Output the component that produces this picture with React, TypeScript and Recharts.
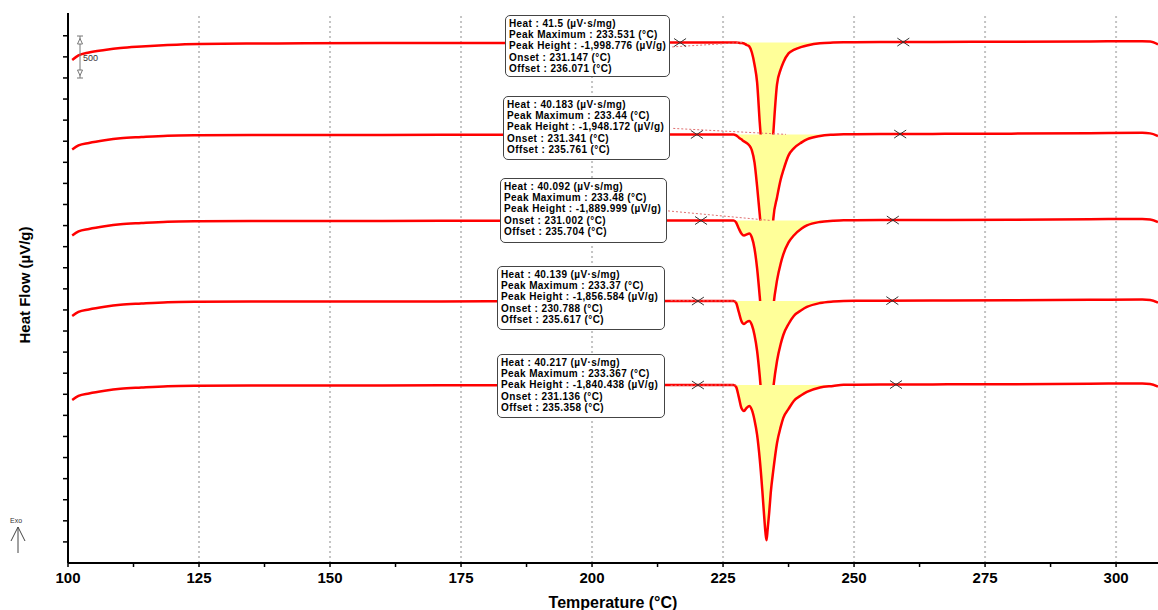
import React from "react";
import {
  ComposedChart,
  Line,
  Area,
  XAxis,
  YAxis,
  ReferenceLine,
  Scatter,
  Label,
} from "recharts";

// temperature grid (°C), denser around the melting peak
const TEMPS = [
  100.8, 102, 104, 107, 110, 114, 119, 125, 140, 160, 180, 200, 215, 222, 226,
  227, 227.5, 228, 228.5, 229, 229.5, 230, 230.5, 231, 231.5, 232, 232.5, 232.8,
  233.1, 233.3, 233.5, 233.8, 234.1, 234.6, 235.3, 236, 236.5, 237.5, 238.5, 240,
  241, 243.5, 246, 248, 255, 265, 280, 295, 305, 306.5, 308,
];

// heat flow relative to each run's own baseline (µV/g)
const CURVE_1 = [
  -202, -148, -113, -83, -59, -41, -24, -12, -6, 0, 0, 2, 4, 5, 6,
  6, 6, 2, -1, -6, -24, -41, -113, -255, -468, -942, -1357, -1594, -1831, -1938,
  -1993, -1831, -1535, -1061, -492, -314, -231, -124, -83, -47, -30, -3, 4, 7,
  10, 12, 15, 18, 20, 16, -18,
];
const CURVE_2 = [
  -172, -124, -95, -63, -39, -24, -9, -4, 0, 0, 2, 3, 5, 6, 6,
  6, -6, -30, -53, -77, -95, -124, -184, -326, -610, -942, -1298, -1535, -1772, -1891,
  -1942, -1772, -1476, -990, -741, -528, -421, -243, -160, -89, -53, -12, 2, 7,
  10, 12, 15, 20, 24, 18, -14,
];
const CURVE_3 = [
  -172, -124, -95, -63, -39, -24, -9, -4, 0, 0, 2, 3, 5, 6, 6,
  6, -18, -89, -148, -172, -160, -148, -196, -326, -563, -895, -1274, -1535, -1772, -1867,
  -1884, -1654, -1393, -1014, -705, -504, -397, -255, -172, -89, -53, -12, 1, 7,
  10, 12, 15, 20, 24, 18, -14,
];
const CURVE_4 = [
  -172, -124, -95, -63, -39, -24, -9, -4, 0, 0, 2, 3, 5, 6, 6,
  6, -18, -124, -231, -267, -243, -231, -279, -397, -587, -883, -1251, -1511, -1749, -1850,
  -1772, -1559, -1322, -1014, -705, -504, -397, -267, -172, -101, -65, -18, 0, 7,
  10, 12, 15, 20, 24, 18, -14,
];
const CURVE_5 = [
  -172, -124, -95, -63, -39, -24, -9, -4, 0, 0, 2, 3, 5, 6, 6,
  6, -18, -136, -267, -302, -267, -243, -290, -409, -587, -871, -1251, -1511, -1749, -1834,
  -1713, -1511, -1274, -1002, -682, -492, -385, -279, -184, -113, -77, -24, -6, 7,
  10, 12, 15, 20, 24, 18, -14,
];
const CURVES = [CURVE_1, CURVE_2, CURVE_3, CURVE_4, CURVE_5];

// vertical stacking of the five runs
const CURVE_OFFSETS = [-85, -1175, -2195, -3150, -4145];
const PEAK_BASE = 6;
const PEAK_FROM = 226;
const PEAK_TO = 248;

// integration limits (×) and their level relative to baseline
const MARKER_TEMPS = [
  [216.8, 259.4],
  [220, 258.8],
  [220.8, 257.4],
  [220.2, 257.3],
  [220.2, 258],
];
const MARKER_LEVELS = [5, 10];

// faint baseline leaders from the boxes to the peaks
const LEADER_START_T = [215.3, 215.5, 214.5, 215, 215];
const LEADER_START_LEVEL = [-47, 77, 119, 10, 0];
const LEADER_END_T = [229, 237, 234, 227.5, 227.5];

const X_TICKS = [
  100, 112.5, 125, 137.5, 150, 162.5, 175, 187.5, 200, 212.5, 225, 237.5, 250,
  262.5, 275, 287.5, 300,
];
const GRID_TEMPS = [125, 150, 175, 200, 225, 250, 275, 300];
const Y_TICKS = [
  0, -250, -500, -750, -1000, -1250, -1500, -1750, -2000, -2250, -2500, -2750,
  -3000, -3250, -3500, -3750, -4000, -4250, -4500, -4750, -5000, -5250, -5500,
  -5750, -6000,
];

// analysis results per run
const HEAT = ["41.5", "40.183", "40.092", "40.139", "40.217"];
const PEAK_MAX = ["233.531", "233.44", "233.48", "233.37", "233.367"];
const PEAK_HEIGHT = ["-1,998.776", "-1,948.172", "-1,889.999", "-1,856.584", "-1,840.438"];
const ONSET = ["231.147", "231.341", "231.002", "230.788", "231.136"];
const OFFSET = ["236.071", "235.761", "235.704", "235.617", "235.358"];

const BOX_STYLES = [
  { left: 505, top: 15, width: 165, height: 62 },
  { left: 503, top: 96, width: 167, height: 64 },
  { left: 500, top: 178, width: 167, height: 65 },
  { left: 497, top: 266, width: 168, height: 64 },
  { left: 497, top: 354, width: 168, height: 64 },
];

const FONT = '"Liberation Sans", Arial, Helvetica, sans-serif';
const RED = "#ff0000";
const FILL = "#ffff99";

const table = TEMPS.map((t, i) => {
  const row: Record<string, any> = { t };
  CURVES.forEach((c, k) => {
    const v = CURVE_OFFSETS[k] + c[i];
    row[`c${k}`] = v;
    row[`a${k}`] =
      t >= PEAK_FROM && t <= PEAK_TO ? [v, CURVE_OFFSETS[k] + PEAK_BASE] : null;
  });
  return row;
});

const markerData = MARKER_TEMPS.flatMap((pair, k) =>
  pair.map((t, j) => ({ t, v: CURVE_OFFSETS[k] + MARKER_LEVELS[j] }))
);

const Cross = (props: any) => {
  const { cx, cy } = props;
  if (cx == null || cy == null) return null;
  return (
    <g stroke="#333" strokeWidth={1}>
      <line x1={cx - 6} y1={cy - 4} x2={cx + 6} y2={cy + 4} />
      <line x1={cx - 6} y1={cy + 4} x2={cx + 6} y2={cy - 4} />
    </g>
  );
};

const YTitle = (props: any) => {
  const vb = props.viewBox || { y: 13, height: 550 };
  const cx = 24;
  const cy = vb.y + vb.height / 2 - 3;
  return (
    <text
      x={cx}
      y={cy}
      transform={`rotate(-90 ${cx} ${cy})`}
      textAnchor="middle"
      dominantBaseline="central"
      style={{ fontFamily: FONT, fontSize: 15, fontWeight: "bold", fill: "#000" }}
    >
      Heat Flow (µV/g)
    </text>
  );
};

const ResultBox = ({ k }: { k: number }) => (
  <div
    style={{
      position: "absolute",
      ...BOX_STYLES[k],
      boxSizing: "border-box",
      border: "1px solid #444",
      borderRadius: 5,
      background: "#fff",
      padding: "2px 0 0 3px",
      fontFamily: FONT,
      fontSize: 10,
      letterSpacing: 0.4,
      fontWeight: "bold",
      lineHeight: "11.2px",
      color: "#000",
      whiteSpace: "nowrap",
    }}
  >
    <div>Heat : {HEAT[k]} (µV·s/mg)</div>
    <div>Peak Maximum : {PEAK_MAX[k]} (°C)</div>
    <div>Peak Height : {PEAK_HEIGHT[k]} (µV/g)</div>
    <div>Onset : {ONSET[k]} (°C)</div>
    <div>Offset : {OFFSET[k]} (°C)</div>
  </div>
);

export default function App() {
  return (
    <div style={{ position: "absolute", left: 0, top: 0, width: 1158, height: 610, background: "#fff" }}>
      <ComposedChart
        width={1158}
        height={610}
        data={table}
        margin={{ top: 13, right: 0, bottom: 0, left: 0 }}
      >
        <XAxis
          type="number"
          dataKey="t"
          domain={[100, 308]}
          allowDataOverflow
          ticks={X_TICKS}
          interval={0}
          tickFormatter={(v: number) => (v % 25 === 0 ? String(v) : "")}
          tick={{ fill: "#000", fontSize: 15, fontWeight: "bold", fontFamily: FONT }}
          tickSize={4}
          tickMargin={5}
          height={47}
          axisLine={{ stroke: "#000", strokeWidth: 2 }}
          tickLine={{ stroke: "#000", strokeWidth: 1.5 }}
        >
          <Label
            value="Temperature (°C)"
            position="insideBottom"
            offset={2}
            style={{ fontFamily: FONT, fontSize: 16, fontWeight: "bold", fill: "#000" }}
          />
        </XAxis>
        <YAxis
          type="number"
          domain={[-6250, 270]}
          allowDataOverflow
          ticks={Y_TICKS}
          interval={0}
          width={68}
          tickFormatter={() => ""}
          tickSize={5}
          axisLine={{ stroke: "#000", strokeWidth: 2 }}
          tickLine={{ stroke: "#000", strokeWidth: 1.5 }}
          label={<YTitle />}
        />

        {GRID_TEMPS.map((t) => (
          <ReferenceLine
            key={`g${t}`}
            x={t}
            stroke="#c4c4c4"
            strokeWidth={2}
            strokeDasharray="2 3"
            zIndex={50}
          />
        ))}

        {CURVES.map((_, k) => [
          <Area
            key={`a${k}`}
            dataKey={`a${k}`}
            type="monotone"
            stroke="none"
            fill={FILL}
            fillOpacity={1}
            isAnimationActive={false}
            activeDot={false}
            zIndex={101 + k * 2}
          />,
          <Line
            key={`c${k}`}
            dataKey={`c${k}`}
            type="monotone"
            stroke={RED}
            strokeWidth={2.5}
            dot={false}
            activeDot={false}
            isAnimationActive={false}
            zIndex={102 + k * 2}
          />,
        ])}

        {CURVES.map((_, k) => (
          <ReferenceLine
            key={`l${k}`}
            segment={[
              { x: LEADER_START_T[k], y: CURVE_OFFSETS[k] + LEADER_START_LEVEL[k] },
              { x: LEADER_END_T[k], y: CURVE_OFFSETS[k] + PEAK_BASE },
            ]}
            stroke="#e07070"
            strokeWidth={1}
            strokeDasharray="2 2"
            ifOverflow="visible"
            zIndex={115}
          />
        ))}

        <Scatter
          data={markerData}
          dataKey="v"
          shape={<Cross />}
          isAnimationActive={false}
          zIndex={120}
        />
      </ComposedChart>

      {BOX_STYLES.map((_, k) => (
        <ResultBox key={k} k={k} />
      ))}

      <svg
        width={1158}
        height={610}
        style={{ position: "absolute", left: 0, top: 0, pointerEvents: "none" }}
      >
        {/* 500 µV/g scale bar */}
        <g stroke="#777" strokeWidth={1} fill="none">
          <line x1={80} y1={36} x2={80} y2={78} />
          <line x1={77} y1={36} x2={83} y2={36} />
          <line x1={77} y1={78} x2={83} y2={78} />
          <polygon points="80,38.5 77.5,44 82.5,44" fill="#fff" />
          <polygon points="80,75.5 77.5,70 82.5,70" fill="#fff" />
        </g>
        <text x={83} y={61} style={{ fontFamily: FONT, fontSize: 9, fill: "#333" }}>
          500
        </text>
        {/* Exo direction */}
        <text
          x={16}
          y={523}
          textAnchor="middle"
          style={{ fontFamily: FONT, fontSize: 7, fill: "#333" }}
        >
          Exo
        </text>
        <g stroke="#444" strokeWidth={1} fill="none">
          <line x1={18} y1={527} x2={18} y2={553} />
          <line x1={18} y1={527} x2={11} y2={541} />
          <line x1={18} y1={527} x2={25} y2={541} />
        </g>
      </svg>
    </div>
  );
}
